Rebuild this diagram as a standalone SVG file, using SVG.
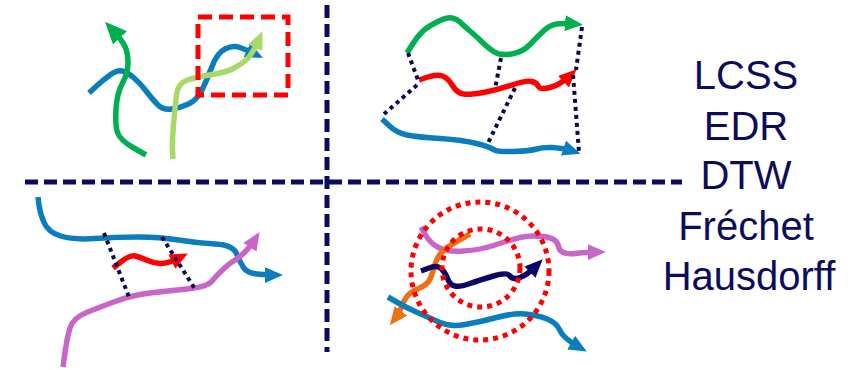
<svg xmlns="http://www.w3.org/2000/svg" width="856" height="370" viewBox="0 0 856 370">
<style>
.t{fill:none;stroke-width:5.5;stroke-linejoin:round;stroke-linecap:butt}
.blue{stroke:#0b7dbd}.green{stroke:#00b050}.lgreen{stroke:#a8d86a}.red{stroke:#ff0000}.purple{stroke:#c866c8}.orange{stroke:#ef7013}.navy{stroke:#0a0a66}
.dot{fill:none;stroke:#0a0a4e;stroke-width:4;stroke-dasharray:4 4}
.div{fill:none;stroke:#0a0a5e;stroke-width:5;stroke-dasharray:13 6}
.rdot{fill:none;stroke:#ff0000;stroke-width:5;stroke-dasharray:5 5}
.lbl{font-family:"Liberation Sans",Arial,sans-serif;font-size:40px;fill:#0c0c5c;text-anchor:middle}
</style>
<defs>
<marker id="aBlue" viewBox="0 0 16 14" refX="8" refY="7" markerWidth="18" markerHeight="16" markerUnits="userSpaceOnUse" orient="auto"><path d="M0,0 L16,7 L0,14 Z" fill="#0b7dbd"/></marker>
<marker id="aGreen" viewBox="0 0 16 14" refX="8" refY="7" markerWidth="18" markerHeight="16" markerUnits="userSpaceOnUse" orient="auto"><path d="M0,0 L16,7 L0,14 Z" fill="#00b050"/></marker>
<marker id="aGreenBig" viewBox="0 0 16 14" refX="8" refY="7" markerWidth="22" markerHeight="20" markerUnits="userSpaceOnUse" orient="auto"><path d="M0,0 L16,7 L0,14 Z" fill="#00b050"/></marker>
<marker id="aLgreen" viewBox="0 0 16 14" refX="8" refY="7" markerWidth="18" markerHeight="16" markerUnits="userSpaceOnUse" orient="auto"><path d="M0,0 L16,7 L0,14 Z" fill="#a8d86a"/></marker>
<marker id="aRed" viewBox="0 0 16 14" refX="8" refY="7" markerWidth="18" markerHeight="16" markerUnits="userSpaceOnUse" orient="auto"><path d="M0,0 L16,7 L0,14 Z" fill="#ff0000"/></marker>
<marker id="aPurple" viewBox="0 0 16 14" refX="8" refY="7" markerWidth="18" markerHeight="16" markerUnits="userSpaceOnUse" orient="auto"><path d="M0,0 L16,7 L0,14 Z" fill="#c866c8"/></marker>
<marker id="aOrange" viewBox="0 0 16 14" refX="8" refY="7" markerWidth="18" markerHeight="16" markerUnits="userSpaceOnUse" orient="auto"><path d="M0,0 L16,7 L0,14 Z" fill="#ef7013"/></marker>
<marker id="aNavy" viewBox="0 0 16 14" refX="8" refY="7" markerWidth="18" markerHeight="16" markerUnits="userSpaceOnUse" orient="auto"><path d="M0,0 L16,7 L0,14 Z" fill="#0a0a66"/></marker>
</defs>

<g id="dividers">
<path class="div" d="M327,5 L327,352"/>
<path class="div" d="M25,182 L682,182"/>
</g>

<g id="q1-lcss">
<path class="t blue" marker-end="url(#aBlue)" d="M89,93 L96,86.5 Q103,80 110,75 Q117,70 122,71 Q127,72 133.5,77.5 Q140,83 146.5,91.5 Q153,100 158,105 Q163,110 171.5,109 Q180,108 188.5,104 Q197,100 202,90 Q207,80 212,66.5 Q217,53 225,49 Q233,45 240,47.5 Q247,50 255,54"/>
<path class="t green" marker-end="url(#aGreenBig)" d="M146,155 L133,147.5 Q120,140 117.5,132.5 Q115,125 116,109 Q117,93 122.5,83 Q128,73 128,63 Q128,53 125,46.5 Q122,40 112.5,29.8"/>
<path class="t lgreen" marker-end="url(#aLgreen)" d="M173,159 L172.5,151 Q172,143 173.5,125 Q175,107 176.5,95 Q178,83 187.5,80 Q197,77 212,74.5 Q227,72 233.5,68.5 Q240,65 246,60 Q252,55 258.8,39.4"/>
<rect x="198" y="17" width="90" height="78" fill="none" stroke="#ff0000" stroke-width="5" stroke-dasharray="14 7"/>
</g>

<g id="q2-dtw">
<path class="t green" marker-end="url(#aGreen)" d="M407,53 L412,45 Q417,37 422,32 Q427,27 437,22 Q447,17 452,18 Q457,19 460,22 Q463,25 470,31 Q477,37 482,42 Q487,47 493.5,51.5 Q500,56 511.5,54 Q523,52 530,44.5 Q537,37 543.5,31 Q550,25 556.5,24 Q563,23 574,24"/>
<path class="t red" marker-end="url(#aRed)" d="M419,80 L428,77 Q437,74 442.5,76 Q448,78 452.5,85.5 Q457,93 463.5,94 Q470,95 483.5,92.5 Q497,90 512,85 Q527,80 532,81.5 Q537,83 538.5,86.5 Q540,90 550,87.5 Q560,85 570,75.5"/>
<path class="t blue" marker-end="url(#aBlue)" d="M382,119 L389.5,126 Q397,133 407,135 Q417,137 440,138.5 Q463,140 476.5,143.5 Q490,147 493.5,149.5 Q497,152 513.5,151.5 Q530,151 536.5,149 Q543,147 553,147.5 Q563,148 572,151"/>
</g>

<g id="q3-frechet">
<path class="t blue" marker-end="url(#aBlue)" d="M38,197 L39,205 Q40,213 44,222.5 Q48,232 60.5,236 Q73,240 95,238.5 Q117,237 138.5,237 Q160,237 178.5,240 Q197,243 215,244 Q233,245 236.5,253.5 Q240,262 243.5,267.5 Q247,273 257,274 Q267,275 274,275"/>
<path class="t purple" marker-end="url(#aPurple)" d="M63,367 L65,352.5 Q67,338 70,328 Q73,318 86.5,312.5 Q100,307 116.5,301 Q133,295 150,293 Q167,291 187,289 Q207,287 212,281 Q217,275 223.5,269 Q230,263 235,260 Q240,257 245,252 Q250,247 254.7,239.7"/>
<path class="t red" marker-end="url(#aRed)" d="M113,268 L121.5,261.5 Q130,255 135,256 Q140,257 146.5,260 Q153,263 160,263.5 Q167,264 179.8,257.6"/>
</g>

<g id="q4-hausdorff">
<path class="t purple" marker-end="url(#aPurple)" d="M421,227 L425.5,235 Q430,243 438.5,247.5 Q447,252 463.5,251 Q480,250 495,245 Q510,240 520,237.5 Q530,235 543.5,236.5 Q557,238 558.5,246.5 Q560,255 575,253.5 Q590,252 597,252"/>
<path class="t orange" marker-end="url(#aOrange)" d="M470,234 L458.5,240.5 Q447,247 442,252 Q437,257 434.5,266 Q432,275 429.5,280 Q427,285 418.5,288.5 Q410,292 406.5,297 Q403,302 401.5,307 Q400,312 395.4,318"/>
<path class="t navy" marker-end="url(#aNavy)" d="M421,271 L429,268 Q437,265 441,268.5 Q445,272 447.5,278.5 Q450,285 455,286 Q460,287 470,283.5 Q480,280 493.5,276 Q507,272 510,276 Q513,280 520,277.5 Q527,275 536.3,265.7"/>
<path class="t blue" marker-end="url(#aBlue)" d="M388,297 L397.5,302.5 Q407,308 418.5,313 Q430,318 440,322.5 Q450,327 465,324.5 Q480,322 496.5,317.5 Q513,313 525,314 Q537,315 547,319 Q557,323 560,330.5 Q563,338 579,347"/>
<circle class="rdot" cx="480" cy="271" r="69"/>
<circle class="rdot" cx="481" cy="268" r="39"/>
</g>

<g id="connectors">
<path class="dot" d="M408,53 L418,80"/>
<path class="dot" d="M417,85 L383,115"/>
<path class="dot" d="M501,58 L495,89"/>
<path class="dot" d="M515,88 L488,143"/>
<path class="dot" d="M582,27 L576,70"/>
<path class="dot" d="M573,75 L579,152"/>
<path class="dot" d="M104,233 L129,297"/>
<path class="dot" d="M162,237 L195,289"/>
</g>

<g id="labels">
<text class="lbl" x="746" y="89">LCSS</text>
<text class="lbl" x="746" y="140">EDR</text>
<text class="lbl" x="746" y="189">DTW</text>
<text class="lbl" x="746" y="240">Fréchet</text>
<text class="lbl" x="749" y="290">Hausdorff</text>
</g>
</svg>
